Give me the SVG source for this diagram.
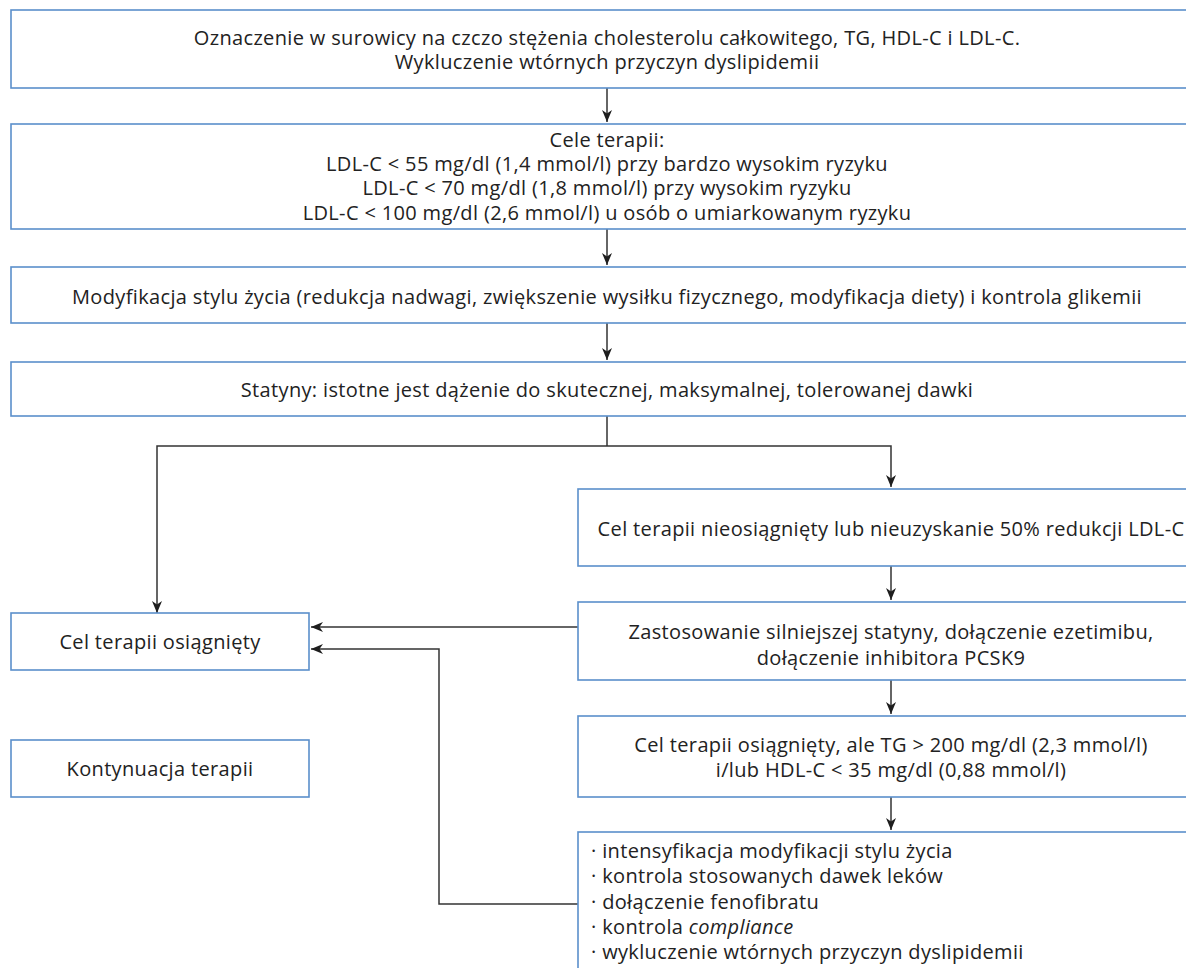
<svg xmlns="http://www.w3.org/2000/svg" width="1186" height="968" viewBox="0 0 1186 968">
<style>
.box{fill:#ffffff;stroke:#5b8fcb;stroke-width:1.6}
.t{font-family:"Open Sans","Noto Sans","Liberation Sans",sans-serif;font-size:20px;letter-spacing:0.35px;fill:#222222;text-anchor:middle}
.l{text-anchor:start}
.c{fill:none;stroke:#333333;stroke-width:1.5}
</style>
<defs>
<marker id="ah" viewBox="0 0 12 10" refX="12" refY="5" markerWidth="12" markerHeight="10" markerUnits="userSpaceOnUse" orient="auto">
<path d="M0,0 L12,5 L0,10 L3.5,5 Z" fill="#1e1e1e"/>
</marker>
</defs>
<rect width="1186" height="968" fill="#ffffff"/>
<g id="connectors">
<line class="c" x1="607" y1="88" x2="607" y2="122" marker-end="url(#ah)"/>
<line class="c" x1="607" y1="229" x2="607" y2="265" marker-end="url(#ah)"/>
<line class="c" x1="607" y1="323" x2="607" y2="360" marker-end="url(#ah)"/>
<polyline class="c" points="607,416 607,446"/>
<polyline class="c" points="607,446 157,446 157,613" marker-end="url(#ah)"/>
<polyline class="c" points="607,446 891,446 891,487" marker-end="url(#ah)"/>
<line class="c" x1="891" y1="566" x2="891" y2="600" marker-end="url(#ah)"/>
<line class="c" x1="578" y1="627" x2="311" y2="627" marker-end="url(#ah)"/>
<line class="c" x1="891" y1="680" x2="891" y2="714" marker-end="url(#ah)"/>
<line class="c" x1="891" y1="797" x2="891" y2="830" marker-end="url(#ah)"/>
<polyline class="c" points="578,904 439,904 439,649 311,649" marker-end="url(#ah)"/>
</g>
<g id="n1">
<rect class="box" x="11" y="10" width="1192" height="78"/>
<text class="t" x="607" y="45">Oznaczenie w surowicy na czczo stężenia cholesterolu całkowitego, TG, HDL-C i LDL-C.</text>
<text class="t" x="607" y="69">Wykluczenie wtórnych przyczyn dyslipidemii</text>
</g>
<g id="n2">
<rect class="box" x="11" y="124" width="1192" height="105"/>
<text class="t" x="607" y="147">Cele terapii:</text>
<text class="t" x="607" y="171">LDL-C &lt; 55 mg/dl (1,4 mmol/l) przy bardzo wysokim ryzyku</text>
<text class="t" x="607" y="195">LDL-C &lt; 70 mg/dl (1,8 mmol/l) przy wysokim ryzyku</text>
<text class="t" x="607" y="220">LDL-C &lt; 100 mg/dl (2,6 mmol/l) u osób o umiarkowanym ryzyku</text>
</g>
<g id="n3">
<rect class="box" x="11" y="267" width="1192" height="56"/>
<text class="t" x="607" y="304">Modyfikacja stylu życia (redukcja nadwagi, zwiększenie wysiłku fizycznego, modyfikacja diety) i kontrola glikemii</text>
</g>
<g id="n4">
<rect class="box" x="11" y="362" width="1192" height="54"/>
<text class="t" x="607" y="397">Statyny: istotne jest dążenie do skutecznej, maksymalnej, tolerowanej dawki</text>
</g>
<g id="nA">
<rect class="box" x="578" y="489" width="625" height="77"/>
<text class="t" x="891" y="536">Cel terapii nieosiągnięty lub nieuzyskanie 50% redukcji LDL-C</text>
</g>
<g id="nB">
<rect class="box" x="578" y="602" width="625" height="78"/>
<text class="t" x="891" y="639">Zastosowanie silniejszej statyny, dołączenie ezetimibu,</text>
<text class="t" x="891" y="665">dołączenie inhibitora PCSK9</text>
</g>
<g id="nC">
<rect class="box" x="578" y="716" width="625" height="81"/>
<text class="t" x="891" y="752">Cel terapii osiągnięty, ale TG &gt; 200 mg/dl (2,3 mmol/l)</text>
<text class="t" x="891" y="777">i/lub HDL-C &lt; 35 mg/dl (0,88 mmol/l)</text>
</g>
<g id="nD">
<rect class="box" x="578" y="832" width="625" height="160"/>
<text class="t l" x="591" y="858">· intensyfikacja modyfikacji stylu życia</text>
<text class="t l" x="591" y="883">· kontrola stosowanych dawek leków</text>
<text class="t l" x="591" y="909">· dołączenie fenofibratu</text>
<text class="t l" x="591" y="934">· kontrola <tspan font-style="italic">compliance</tspan></text>
<text class="t l" x="591" y="959">· wykluczenie wtórnych przyczyn dyslipidemii</text>
</g>
<g id="nCel">
<rect class="box" x="11" y="613" width="298" height="57"/>
<text class="t" x="160" y="649">Cel terapii osiągnięty</text>
</g>
<g id="nKont">
<rect class="box" x="11" y="740" width="298" height="57"/>
<text class="t" x="160" y="776">Kontynuacja terapii</text>
</g>
</svg>
